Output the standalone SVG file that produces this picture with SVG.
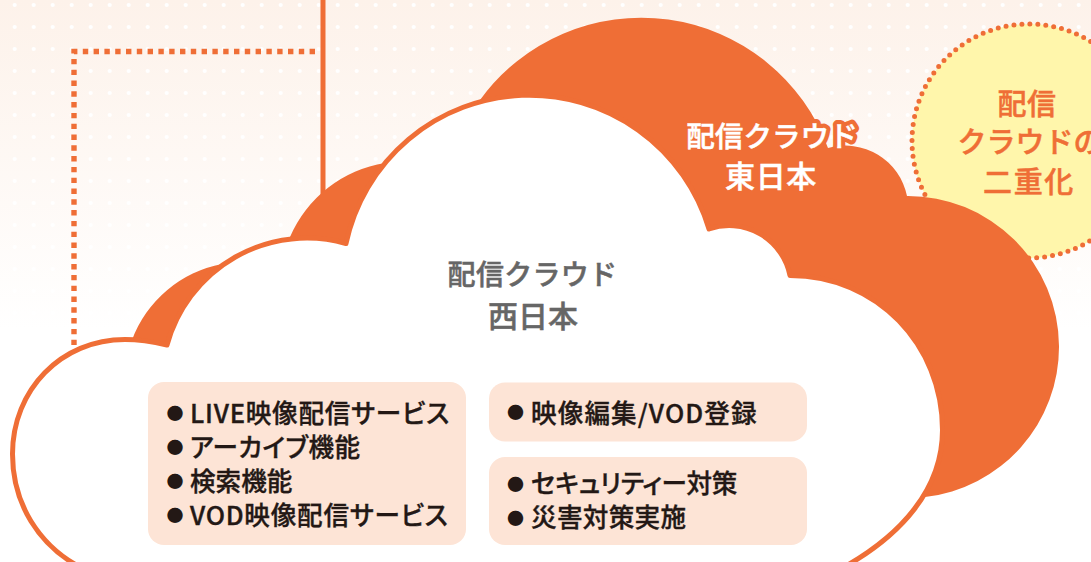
<svg xmlns="http://www.w3.org/2000/svg" width="1091" height="562" viewBox="0 0 1091 562">
<style>
text{font-family:"Noto Sans CJK JP","Noto Sans",sans-serif;font-weight:500}
.l{font-size:25.6px;fill:#231815;stroke:#231815;stroke-width:.35px;font-feature-settings:"palt"}
.b{font-size:17px;fill:#231815;text-anchor:middle}
.t{font-size:28px;text-anchor:middle;stroke-width:.5px}
.box{fill:#fde4d6}
</style>
<defs>
<linearGradient id="bg" x1="0" y1="0" x2="0" y2="1"><stop offset="0" stop-color="#fdf2ea"/><stop offset="1" stop-color="#ffffff"/></linearGradient>
<pattern id="dots" x="5" y="-6" width="19" height="22" patternUnits="userSpaceOnUse"><circle cx="9.7" cy="11" r="2.1" fill="#fff"/></pattern>
</defs>
<rect id="background" width="1091" height="330" fill="url(#bg)"/>
<rect id="dot-grid" width="1091" height="330" fill="url(#dots)"/>
<g id="connectors" fill="none" stroke="#ef6e36">
<path d="M323 0V205" stroke-width="5"/>
<path d="M315 51.5H74V345" stroke-width="5.4" stroke-dasharray="5.4 5.4"/>
</g>
<g id="node-nijuka">
<circle cx="1029" cy="141" r="117" fill="#fff6ab" stroke="#ef6e36" stroke-width="5" stroke-linecap="round" stroke-dasharray="0 8"/>
<text class="t" x="1027" y="115" fill="#ef6e36" stroke="#ef6e36" style="font-size:29px;letter-spacing:.5px">配信</text>
<text class="t" x="1030" y="153" fill="#ef6e36" stroke="#ef6e36" style="font-size:29px">クラウドの</text>
<text class="t" x="1029" y="193" fill="#ef6e36" stroke="#ef6e36" style="font-size:29px;letter-spacing:1.6px">二重化</text>
</g>
<g id="node-east">
<path fill="#ef6e36" d="M132 340A120 120 0 0 1 222 264L290 237A125 125 0 0 1 385 163L480 100A199 199 0 0 1 828 148A63 63 0 0 1 907 196A151 151 0 0 1 1059 346A151 151 0 0 1 925 497L400 500Z"/>
<text x="772" y="147" fill="#ef6e36" stroke="#ef6e36" text-anchor="middle" style="font-size:28.6px;stroke-width:9px;stroke-linejoin:round">配信クラウド</text>
<text class="t" x="772" y="147" fill="#fff" stroke="#fff" style="font-size:28.6px">配信クラウド</text>
<text class="t" x="771" y="187" fill="#fff" stroke="#fff" style="font-size:30px;letter-spacing:.6px">東日本</text>
</g>
<g id="node-west">
<path fill="#fff" stroke="#ef6e36" stroke-width="5" stroke-linejoin="round" d="M78 566C40 545 12.500 505 12.500 454C12.500 390 61 339.500 125 339.500C135 339.500 150 341 167 345A145 145 0 0 1 346 243.500A187.500 187.500 0 0 1 709 229A62 62 0 0 1 790 275.500C877 275.500 942.500 345 942.500 430C942.500 490 900 535 846 566Z"/>
<text class="t" x="532.500" y="285" fill="#666" stroke="#666" style="letter-spacing:.3px">配信クラウド</text>
<text class="t" x="533" y="327" fill="#666" stroke="#666" style="font-size:30px">西日本</text>
</g>
<g id="box-services">
<rect class="box" x="148" y="382" width="318" height="163" rx="16"/>
<text class="b" x="175" y="419.600">●</text><text class="l" x="190" y="423" style="letter-spacing:.75px">LIVE映像配信サービス</text>
<text class="b" x="175" y="453.600">●</text><text class="l" x="190" y="457" style="letter-spacing:.45px">アーカイブ機能</text>
<text class="b" x="175" y="487.600">●</text><text class="l" x="190" y="491">検索機能</text>
<text class="b" x="175" y="521.600">●</text><text class="l" x="190" y="525" style="letter-spacing:.75px">VOD映像配信サービス</text>
</g>
<g id="box-registration">
<rect class="box" x="489" y="382.500" width="318" height="59" rx="16"/>
<text class="b" x="515.500" y="418.600">●</text><text class="l" x="531" y="423" style="letter-spacing:1.1px">映像編集/VOD登録</text>
</g>
<g id="box-security">
<rect class="box" x="489" y="457" width="318" height="88" rx="16"/>
<text class="b" x="515.500" y="490.600">●</text><text class="l" x="531" y="493" style="letter-spacing:-.3px">セキュリティー対策</text>
<text class="b" x="515.500" y="524.600">●</text><text class="l" x="531" y="527" style="letter-spacing:.3px">災害対策実施</text>
</g>
</svg>
